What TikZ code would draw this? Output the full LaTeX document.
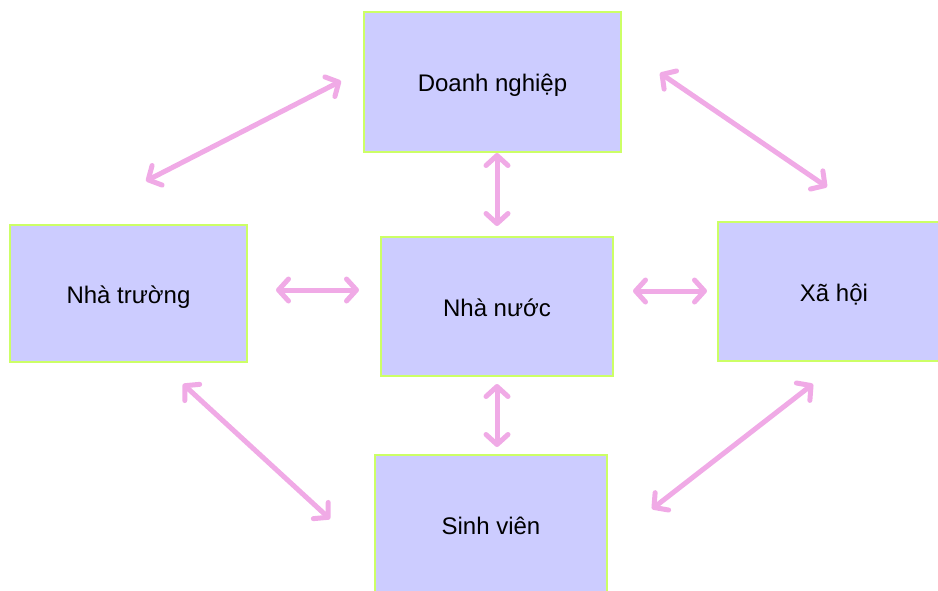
\documentclass[tikz,border=0pt]{standalone}
\usepackage{fontspec}
\setmainfont{Liberation Sans}
\usetikzlibrary{arrows.meta}
\definecolor{boxfill}{RGB}{204,204,255}
\definecolor{boxline}{RGB}{204,255,102}
\definecolor{linkpink}{RGB}{240,170,230}
\begin{document}
\begin{tikzpicture}[x=1pt,y=-1pt,
  block/.style={draw=boxline,line width=2pt,fill=boxfill,inner sep=0pt,
    text height=19pt,text depth=0pt,
    font=\fontsize{24}{28}\selectfont,text=black},
  link/.style={draw=linkpink,line width=5pt,line cap=round,
    {Straight Barb[length=10pt,width=22pt,round]}-{Straight Barb[length=10pt,width=22pt,round]}}]
\useasboundingbox (0,0) rectangle (938,590);
\clip (0,0) rectangle (938,590);
% boxes
\node[block,minimum width=257pt,minimum height=140pt] (dn) at (492.5,82) {Doanh nghiệp};
\node[block,minimum width=237pt,minimum height=137pt] (nt) at (128.5,293.5) {Nhà trường};
\node[block,minimum width=232pt,minimum height=139pt] (nn) at (497,306.5) {Nhà nước};
\node[block,minimum width=232pt,minimum height=139pt] (xh) at (834,291.5) {Xã hội};
\node[block,minimum width=232pt,minimum height=140pt] (sv) at (491,525) {Sinh viên};
% link end points
\coordinate (ntdnA) at (146,181);  \coordinate (ntdnB) at (341,81);
\coordinate (dnxhA) at (660,73);   \coordinate (dnxhB) at (827,187);
\coordinate (ntnnA) at (276,290);  \coordinate (ntnnB) at (359,290);
\coordinate (nnxhA) at (633,291);  \coordinate (nnxhB) at (707,291);
\coordinate (dnnnA) at (497,153);  \coordinate (dnnnB) at (497,226);
\coordinate (nnsvA) at (497,384);  \coordinate (nnsvB) at (497,447);
\coordinate (ntsvA) at (183,384);  \coordinate (ntsvB) at (330,519);
\coordinate (xhsvA) at (813,384);  \coordinate (xhsvB) at (652,509);
% links
\draw[link] (ntdnA) -- (ntdnB);
\draw[link] (dnxhA) -- (dnxhB);
\draw[link] (ntnnA) -- (ntnnB);
\draw[link] (nnxhA) -- (nnxhB);
\draw[link] (dnnnA) -- (dnnnB);
\draw[link] (nnsvA) -- (nnsvB);
\draw[link] (ntsvA) -- (ntsvB);
\draw[link] (xhsvA) -- (xhsvB);
\end{tikzpicture}
\end{document}
